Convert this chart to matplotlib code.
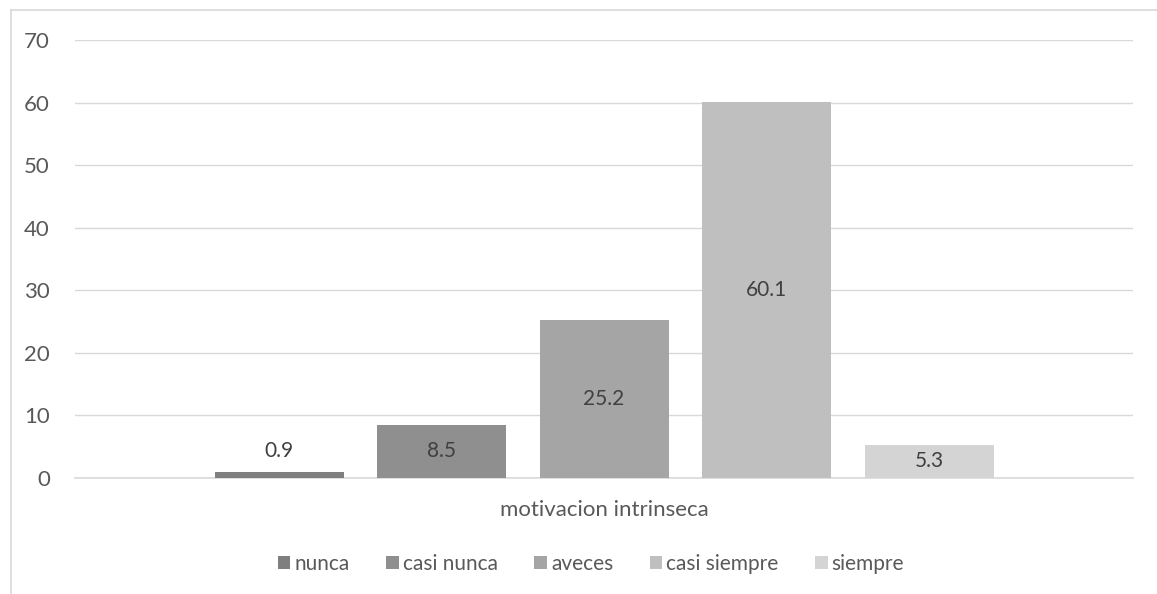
import numpy as np
import matplotlib.pyplot as plt
from matplotlib.patches import Patch
from matplotlib.lines import Line2D

# data
category = 'motivacion intrinseca'
series = ['nunca', 'casi nunca', 'aveces', 'casi siempre', 'siempre']
values = [0.9, 8.5, 25.2, 60.1, 5.3]
colors = ['#7f7f7f', '#8f8f8f', '#a5a5a5', '#bfbfbf', '#d4d4d4']
yticks = [0, 10, 20, 30, 40, 50, 60, 70]

plt.rcParams['font.family'] = ['Lato', 'DejaVu Sans']
txt = '#595959'
fs = 15

fig = plt.figure(figsize=(11.57, 5.94), dpi=100)
ax = fig.add_axes([75 / 1157, 1 - 478 / 594, (1133 - 75) / 1157, (478 - 40) / 594])

step = 162.5 / 1058
width = 129 / 1058
offsets = (np.arange(len(series)) - 2) * step

for off, v, c, name in zip(offsets, values, colors, series):
    ax.bar(off, v, width=width, color=c, label=name, zorder=3)
    if v < 3:
        ax.text(off, v + 3.4, f'{v}', ha='center', va='center', fontsize=fs, color='#404040')
    else:
        ax.text(off, v / 2, f'{v}', ha='center', va='center', fontsize=fs, color='#404040')

ax.set_xlim(-0.5, 0.5)
ax.set_ylim(0, 70)
ax.set_yticks(yticks)
ax.yaxis.grid(True, color='#d9d9d9', lw=1, zorder=0)
ax.set_xticks([0])
ax.set_xticklabels([category])
ax.tick_params(axis='both', length=0, labelsize=16, colors=txt)
ax.tick_params(axis='y', pad=18)
ax.tick_params(axis='x', pad=16)
for s in ['top', 'right', 'left']:
    ax.spines[s].set_visible(False)
ax.spines['bottom'].set_color('#d9d9d9')
ax.spines['bottom'].set_linewidth(1.2)

handles = [Patch(facecolor=c, edgecolor='none') for c in colors]
fig.legend(handles, series, loc='center', bbox_to_anchor=(591 / 1157, 1 - 564 / 594),
           ncol=5, frameon=False, fontsize=fs, labelcolor=txt,
           handlelength=0.6, handleheight=0.6, handletextpad=0.2, columnspacing=1.75)

# outer chart border
fig.add_artist(Line2D([11 / 1157, 1], [1 - 10 / 594, 1 - 10 / 594], color='#d9d9d9', lw=1.2))
fig.add_artist(Line2D([11 / 1157, 11 / 1157], [0, 1 - 10 / 594], color='#d9d9d9', lw=1.2))

fig.savefig('out.png', dpi=100, facecolor='white')
